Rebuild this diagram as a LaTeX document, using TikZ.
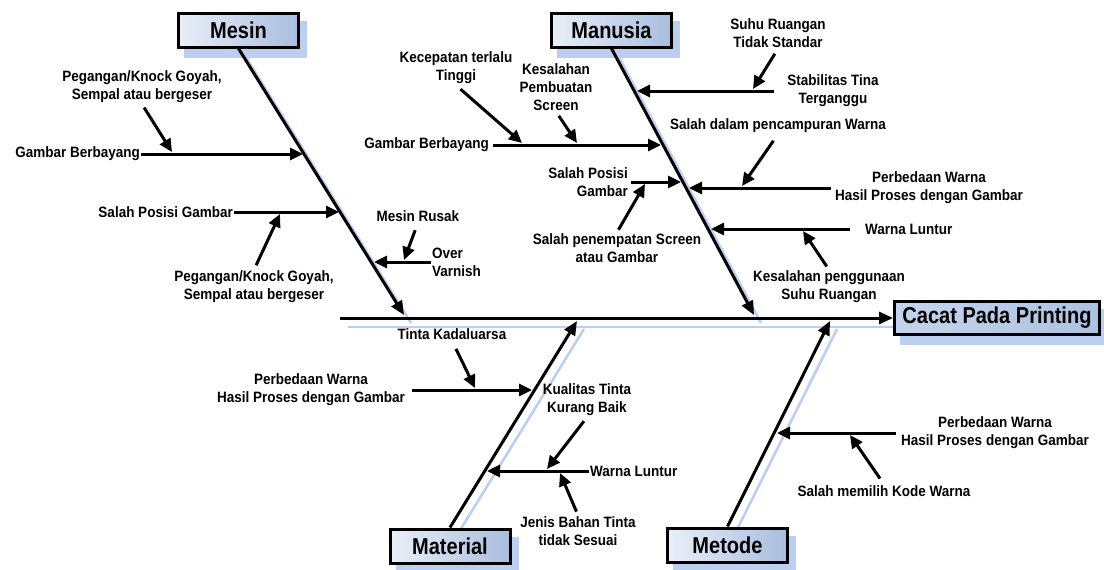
\documentclass[tikz,border=0pt]{standalone}
\usepackage{fontspec}
\setmainfont{Liberation Sans}
\newfontfamily\lblfont[FakeStretch=0.9]{Liberation Sans}
\newfontfamily\boxfont[FakeStretch=0.87]{Liberation Sans}
\usetikzlibrary{arrows.meta,backgrounds}
\definecolor{shadowblue}{RGB}{188,207,240}
\definecolor{boxL}{RGB}{234,239,248}
\definecolor{boxR}{RGB}{168,189,222}
\definecolor{effL}{RGB}{196,212,236}
\definecolor{effR}{RGB}{172,193,226}
\begin{document}
\begin{tikzpicture}[x=1pt,y=-1pt,
  arr/.style={line width=3pt,-{Triangle[length=13pt,width=12pt]}},
  bone/.style={line width=3pt,-{Triangle[length=14pt,width=12pt]}},
  shadowline/.style={line width=2.6pt,draw=shadowblue},
  boxshadow/.style={fill=shadowblue},
  lbl/.style={font=\lblfont\fontsize{15}{18}\selectfont\bfseries,align=center,inner sep=1pt},
  cat/.style={draw,line width=3pt,left color=boxL,right color=boxR,minimum width=120pt,minimum height=34pt,inner sep=0pt,font=\boxfont\fontsize{23}{26}\selectfont\bfseries},
]
\useasboundingbox (0,0) rectangle (1104,570);

% category boxes and effect
\node[cat] (mesin) at (238.5,30) {Mesin};
\node[cat] (manusia) at (611.5,30) {Manusia};
\node[cat] (material) at (450,546) {Material};
\node[cat] (metode) at (727.5,545) {Metode};
\node[cat,minimum width=205pt,minimum height=33pt,left color=effL,right color=effR] (effect) at (997,318) {Cacat Pada Printing};

% named points
\coordinate (s0) at (340,318);
\coordinate (mEnd) at (404,315);
\coordinate (hEnd) at (754,315);
\coordinate (tEnd) at (577,321);
\coordinate (dEnd) at (830,321);

\begin{pgfonlayer}{background}
  \foreach \n in {mesin,manusia,material,metode,effect}{
    \fill[boxshadow] ([shift={(7,9)}]\n.north west) rectangle ([shift={(7,9)}]\n.south east);
  }
  \draw[shadowline] ([shift={(8,9)}]s0) -- ([shift={(7,9)}]effect.west);
  \draw[shadowline] ([shift={(7,8)}]mesin.south) -- ([shift={(7,8)}]mEnd);
  \draw[shadowline] ([shift={(7,8)}]manusia.south) -- ([shift={(7,8)}]hEnd);
  \draw[shadowline] ([shift={(8,6)}]material.north) -- ([shift={(7,8)}]tEnd);
  \draw[shadowline] ([shift={(8,6)}]metode.north) -- ([shift={(7,8)}]dEnd);
\end{pgfonlayer}

% spine and bones
\draw[bone] (s0) -- (effect.west);
\draw[bone] (mesin.south) -- (mEnd);
\draw[bone] (manusia.south) -- (hEnd);
\draw[bone] (material.north) -- (tEnd);
\draw[bone] (metode.north) -- (dEnd);

% ---------- Mesin ----------
\node[lbl] (mA) at (142,87) {Pegangan/Knock Goyah,\\Sempal atau bergeser};
\node[lbl,anchor=east] (mB) at (141,154) {Gambar Berbayang};
\node[lbl,anchor=east] (mC) at (234,212) {Salah Posisi Gambar};
\node[lbl] (mD) at (254,287) {Pegangan/Knock Goyah,\\Sempal atau bergeser};
\node[lbl] (mE) at (418,216) {Mesin Rusak};
\node[lbl,anchor=west,align=left] (mF) at (431,262) {Over\\Varnish};

\coordinate (mB2) at (303,154);
\coordinate (mA2) at (172,152);
\coordinate (mC2) at (339,212);
\coordinate (mD2) at (280,214);
\coordinate (mF2) at (374,262);
\coordinate (mE2) at (404,260);

\draw[arr] (mB.east) -- (mB2);
\draw[arr,shorten <=4pt] (mA.south) -- (mA2);
\draw[arr] (mC.east) -- (mC2);
\draw[arr,shorten <=5pt] (mD.north) -- (mD2);
\draw[arr] (mF.west) -- (mF2);
\draw[arr,shorten <=8pt] (mE.south) -- (mE2);

% ---------- Manusia ----------
\node[lbl] (hA) at (456,68) {Kecepatan terlalu\\Tinggi};
\node[lbl] (hB) at (556,87) {Kesalahan\\Pembuatan\\Screen};
\node[lbl,anchor=east] (hC) at (490,145) {Gambar Berbayang};
\node[lbl,anchor=east,align=right] (hD) at (629,182) {Salah Posisi\\Gambar};
\node[lbl] (hE) at (617,248) {Salah penempatan Screen\\atau Gambar};
\node[lbl] (hF) at (778,33) {Suhu Ruangan\\Tidak Standar};
\node[lbl] (hG) at (833,91) {Stabilitas Tina\\Terganggu};
\node[lbl] (hH) at (778,126) {Salah dalam pencampuran Warna};
\node[lbl] (hI) at (929,188) {Perbedaan Warna\\Hasil Proses dengan Gambar};
\node[lbl,anchor=west] (hJ) at (864,229) {Warna Luntur};
\node[lbl] (hK) at (829,287) {Kesalahan penggunaan\\Suhu Ruangan};

\coordinate (hG2) at (637,91);
\coordinate (hF2) at (753,89);
\coordinate (hC2) at (661,145);
\coordinate (hA2) at (522,143);
\coordinate (hB2) at (577,143);
\coordinate (hD2) at (681,182);
\coordinate (hE2) at (645,184);
\coordinate (hI2) at (689,188);
\coordinate (hH2) at (742,186);
\coordinate (hJ2) at (711,229);
\coordinate (hK2) at (803,231);

\draw[arr,shorten <=12pt] (hG.west) -- (hG2);
\draw[arr,shorten <=6pt] (hF.south) -- (hF2);
\draw[arr,shorten <=3pt] (hC.east) -- (hC2);
\draw[arr,shorten <=6pt] (hA.south) -- (hA2);
\draw[arr,shorten <=5pt] (hB.south) -- (hB2);
\draw[arr,shorten <=2pt] (hD.east) -- (hD2);
\draw[arr,shorten <=3pt] (hE.north) -- (hE2);
\draw[arr,shorten <=3pt] (hI.west) -- (hI2);
\draw[arr,shorten <=8pt] (hH.south) -- (hH2);
\draw[arr,shorten <=14pt] (hJ.west) -- (hJ2);
\draw[arr,shorten <=4pt] (hK.north) -- (hK2);

% ---------- Material ----------
\node[lbl] (tA) at (452,334) {Tinta Kadaluarsa};
\node[lbl] (tB) at (311,390) {Perbedaan Warna\\Hasil Proses dengan Gambar};
\node[lbl] (tC) at (587,400) {Kualitas Tinta\\Kurang Baik};
\node[lbl,anchor=west] (tD) at (589,471) {Warna Luntur};
\node[lbl] (tE) at (578,531) {Jenis Bahan Tinta\\tidak Sesuai};

\coordinate (tB2) at (532,390);
\coordinate (tA2) at (475,388);
\coordinate (tD2) at (487,471);
\coordinate (tC2) at (547,469);
\coordinate (tE2) at (560,473);

\draw[arr,shorten <=6pt] (tB.east) -- (tB2);
\draw[arr,shorten <=9pt] (tA.south) -- (tA2);
\draw[arr] (tD.west) -- (tD2);
\draw[arr,shorten <=5pt] (tC.south) -- (tC2);
\draw[arr,shorten <=4pt] (tE.north) -- (tE2);

% ---------- Metode ----------
\node[lbl] (dA) at (995,433) {Perbedaan Warna\\Hasil Proses dengan Gambar};
\node[lbl] (dB) at (884,491) {Salah memilih Kode Warna};

\coordinate (dA2) at (777,433);
\coordinate (dB2) at (850,435);

\draw[arr,shorten <=4pt] (dA.west) -- (dA2);
\draw[arr,shorten <=7pt] (dB.north) -- (dB2);
\end{tikzpicture}
\end{document}
